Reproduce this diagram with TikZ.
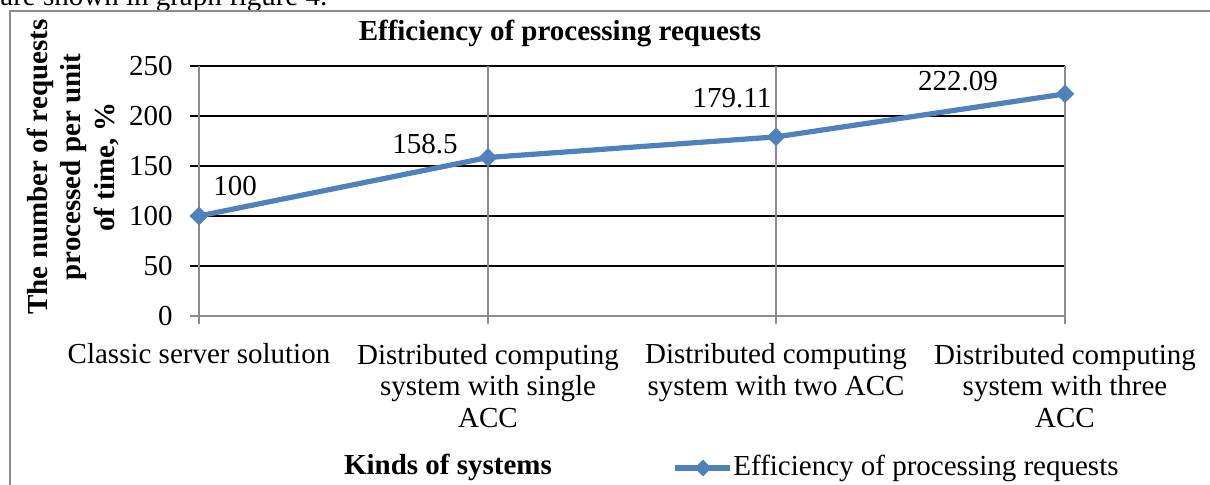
\documentclass[tikz,border=0pt]{standalone}
\usepackage{fontspec}
\setmainfont{Liberation Serif}
\usetikzlibrary{shapes.geometric}
\definecolor{serblue}{HTML}{4F81BD}
\definecolor{axgray}{HTML}{8C8C8C}
\begin{document}
\begin{tikzpicture}[x=0.5pt,y=-0.5pt,
  txt/.style={inner sep=0pt,font=\fontsize{14.5}{15.75}\selectfont},
  btxt/.style={inner sep=0pt,font=\fontsize{14.5}{15.75}\selectfont\bfseries},
  cat/.style={txt,align=center},
  grid/.style={line width=0.75pt,black},
  axis/.style={line width=0.75pt,axgray},
  series/.style={line width=2.6pt,serblue,line join=round},
  marker/.style={diamond,fill=serblue,draw=none,inner sep=0pt,minimum width=9.5pt,minimum height=9.5pt},
  lmarker/.style={diamond,fill=serblue,draw=none,inner sep=0pt,minimum width=8.5pt,minimum height=8.5pt}]
\useasboundingbox (0,0) rectangle (1210,485);
\fill[white] (0,0) rectangle (1210,485);
% cut-off body text
\node[txt,anchor=base west] (bodytext) at (0,6) {are shown in graph figure 4.};
% frame
\draw[axis] (10,485) -- (10,11) -- (1210,11);
% title
\node[btxt] (title) at (560,33) {Efficiency of processing requests};
% horizontal gridlines
\foreach \v in {50,100,150,200,250}{
  \draw[grid] (190,{316-\v}) -- (1065,{316-\v});
  \node[txt,anchor=east] (yl\v) at (173,{316-\v}) {\v};
}
\node[txt,anchor=east] (yl0) at (173,316) {0};
% vertical gridlines and axes
\draw[axis] (488,66) -- (488,324);
\draw[axis] (776,66) -- (776,324);
\draw[axis] (1065,66) -- (1065,324);
\draw[axis] (199,66) -- (199,324);
\draw[axis] (190,316) -- (1065,316);
% y axis title
\node[btxt,align=center,rotate=90,font=\fontsize{14.5}{16.8}\selectfont\bfseries] (ytitle) at (73,167)
  {The number of requests\\processed per unit\\of time, \%};
% category labels
\node[cat] (c1) at (199,354) {Classic server solution};
\node[cat] (c2) at (488,386) {Distributed computing\\system with single\\ACC};
\node[cat] (c3) at (776,372.5) {Distributed computing\\system with two ACC};
\node[cat] (c4) at (1065,386) {Distributed computing\\system with three\\ACC};
% series
\coordinate (p1) at (199,216);
\coordinate (p2) at (488,157.5);
\coordinate (p3) at (776,136.9);
\coordinate (p4) at (1065,93.9);
\draw[series] (p1) -- (p2) -- (p3) -- (p4);
\foreach \p in {p1,p2,p3,p4}{\node[marker] (m\p) at (\p) {};}
% data labels
\node[txt] (d1) at (235,186) {100};
\node[txt] (d2) at (425,144) {158.5};
\node[txt] (d3) at (732,98) {179.11};
\node[txt] (d4) at (958,81) {222.09};
% x axis title
\node[btxt] (xtitle) at (448,467) {Kinds of systems};
% legend
\coordinate (la) at (675,468);
\coordinate (lb) at (730,468);
\draw[series] (la) -- (lb);
\node[lmarker] (lm) at (703,468) {};
\node[txt,anchor=west] (ltext) at (733,468) {Efficiency of processing requests};
\end{tikzpicture}
\end{document}
